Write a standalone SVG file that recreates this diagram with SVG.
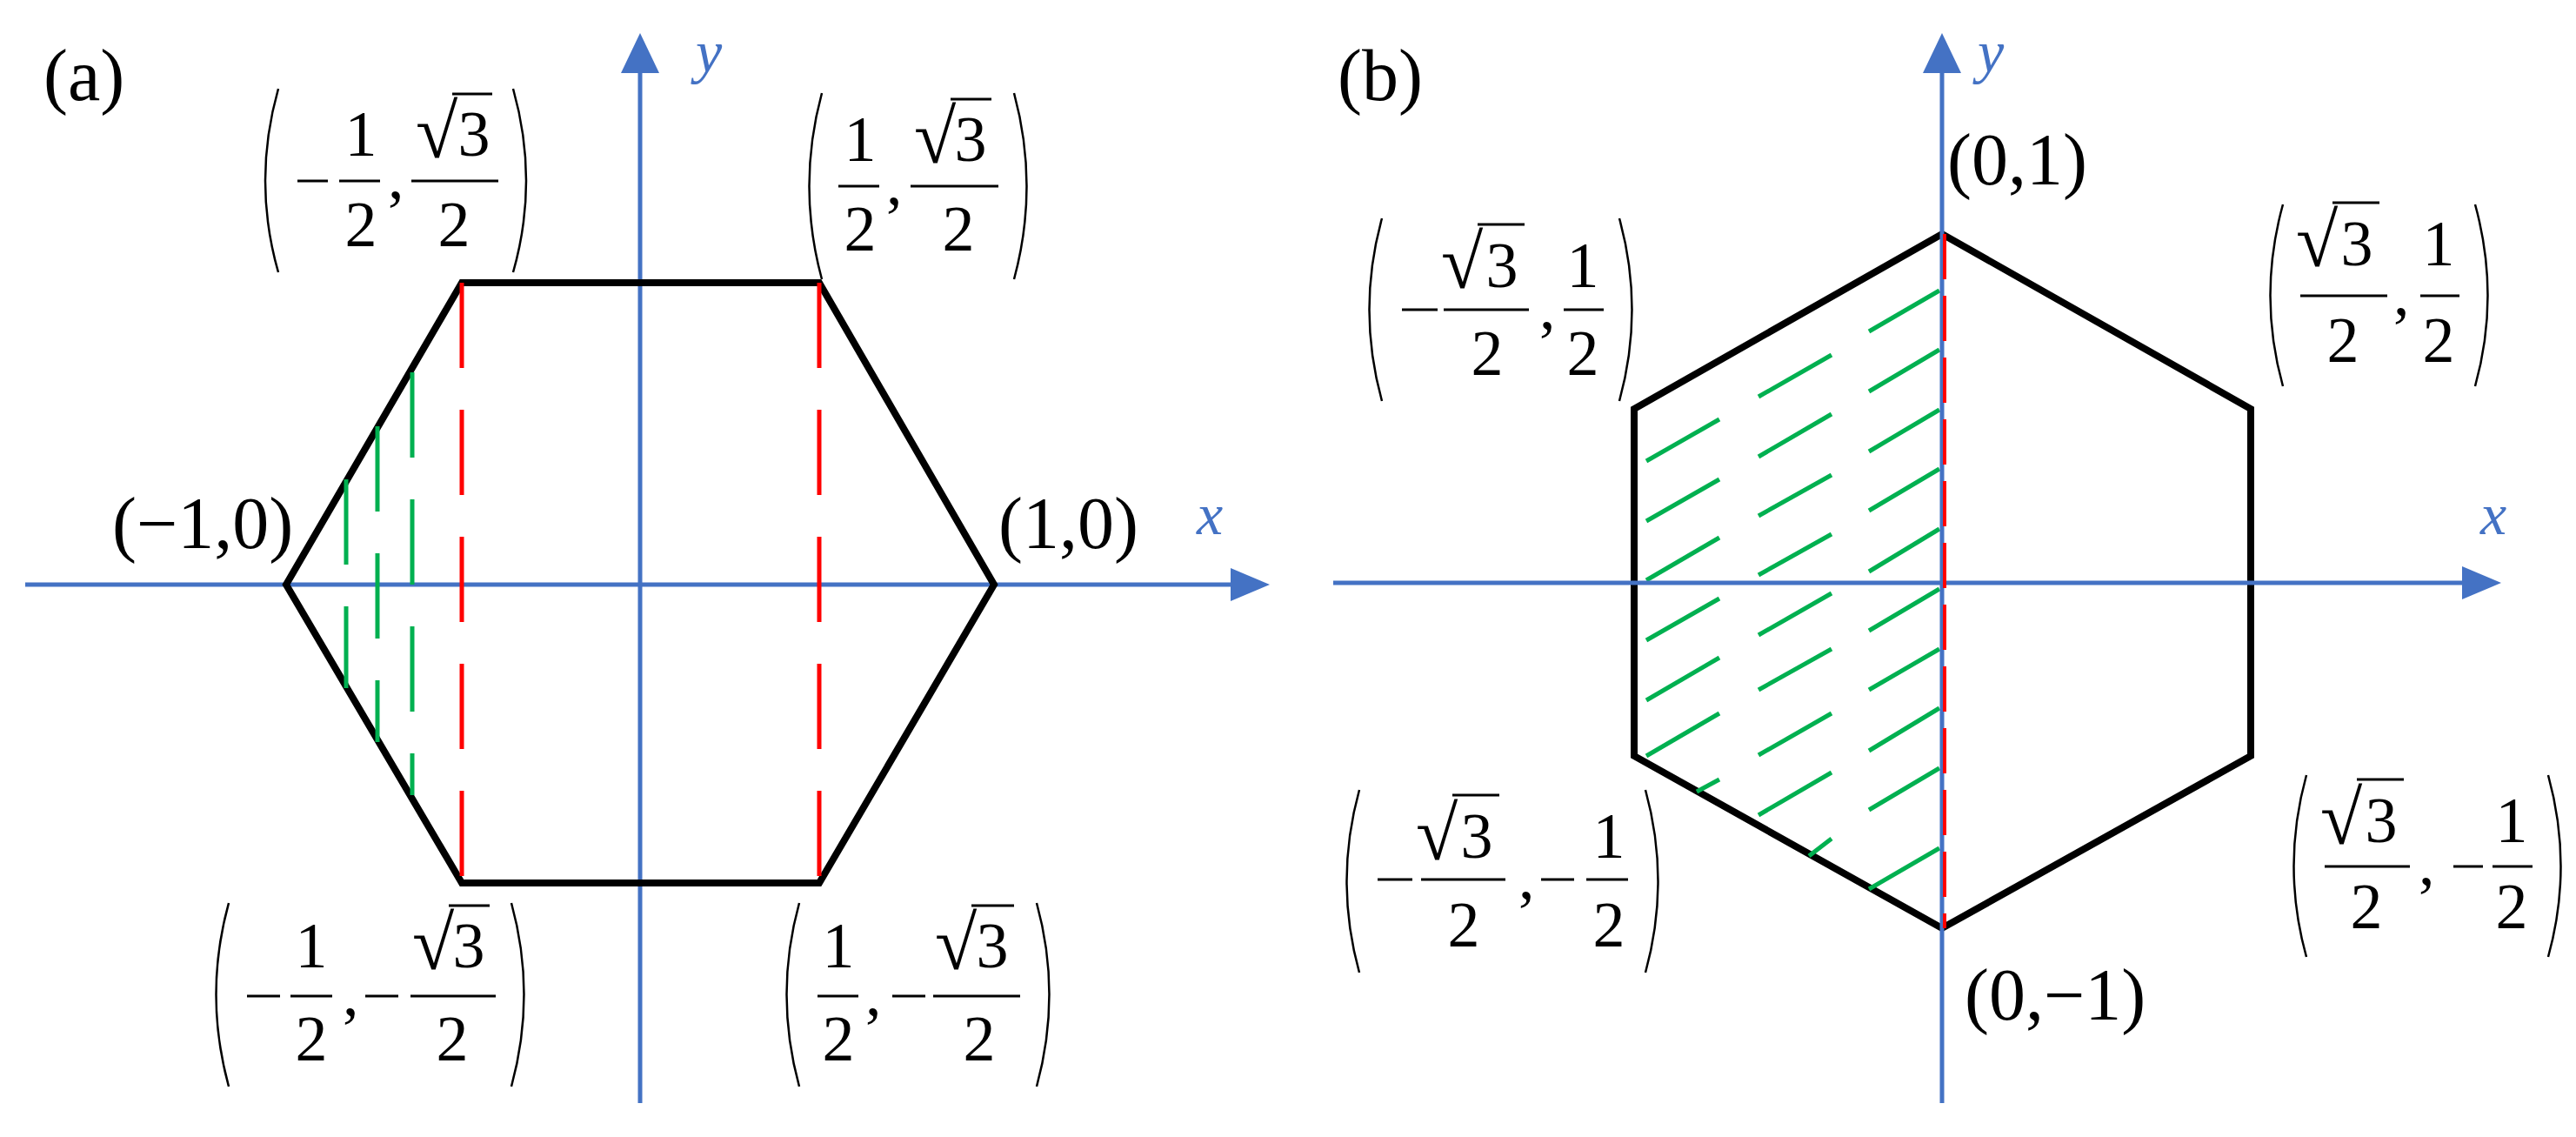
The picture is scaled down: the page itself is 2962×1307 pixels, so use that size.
<svg xmlns="http://www.w3.org/2000/svg" width="2962" height="1307" viewBox="0 0 2962 1307">
<style>
.ax{stroke:#4472C4;stroke-width:5;fill:none}
.ah{fill:#4472C4}
.hex{stroke:#000;stroke-width:8;fill:none;stroke-linejoin:miter}
.red{stroke:#FF0000;stroke-width:5;fill:none;stroke-dasharray:98 48}
.grn{stroke:#00B050;stroke-width:5;fill:none;stroke-dasharray:98 48}
.g{stroke:#00B050;stroke-width:5;fill:none}
.t{font-family:'Liberation Serif','Times New Roman',serif;font-size:74px;fill:#000}
.tb{font-family:'Liberation Serif','Times New Roman',serif;font-size:84px;fill:#000}
.c{text-anchor:middle}
.ax-l{font-family:'Liberation Serif','Times New Roman',serif;font-size:68px;font-style:italic;fill:#4472C4}
.p{stroke:#000;stroke-width:2.5;fill:none}
.b{stroke:#000;stroke-width:3}
.rad{font-family:'Liberation Serif','Times New Roman',serif;font-size:88px;fill:#000}
</style>
<rect width="2962" height="1307" fill="#fff"/>

<!-- Panel a -->
<g id="axes-a">
<line class="ax" x1="29" y1="672" x2="1420" y2="672"/>
<polygon class="ah" points="1460,672 1415,653 1415,691"/>
<line class="ax" x1="736" y1="1268" x2="736" y2="80"/>
<polygon class="ah" points="736,38 714,84 758,84"/>
<text class="ax-l" x="800" y="83">y</text>
<text class="ax-l" x="1376" y="614">x</text>
</g>
<g id="hex-a">
<polygon class="hex" points="329,672 531,325 942,325 1143,672 942,1015 531,1015"/>
</g>
<g id="dashes-a">
<line class="red" x1="531" y1="325" x2="531" y2="1015"/>
<line class="red" x1="942" y1="325" x2="942" y2="1015"/>
<line class="grn" x1="398" y1="551" x2="398" y2="791"/>
<line class="grn" x1="434" y1="490" x2="434" y2="853"/>
<line class="grn" x1="474" y1="428" x2="474" y2="914"/>
</g>
<text class="tb" x="50" y="115" font-size="80">(a)</text>
<g id="lbl-m10"><text class="tb" x="129" y="630">(−1,0)</text></g>
<g id="lbl-10"><text class="tb" x="1148" y="630">(1,0)</text></g>

<g id="lbl-a-tl">
<path class="p" d="M320 102 Q290 208 320 313"/><path class="p" d="M590 102 Q620 208 590 313"/>
<line class="b" x1="342" y1="208" x2="377" y2="208"/>
<text class="t c" x="415" y="179">1</text><line class="b" x1="390" y1="208" x2="437" y2="208"/><text class="t c" x="415" y="283">2</text>
<text class="t" x="446" y="228">,</text>
<text class="rad" x="478" y="181">√</text><line class="b" x1="520" y1="108" x2="566" y2="108"/>
<text class="t c" x="545" y="179">3</text><line class="b" x1="473" y1="208" x2="573" y2="208"/><text class="t c" x="522" y="283">2</text>
</g>
<g id="lbl-a-tr">
<path class="p" d="M945 107 Q916 214 945 321"/><path class="p" d="M1166 107 Q1195 214 1166 321"/>
<text class="t c" x="989" y="185">1</text><line class="b" x1="964" y1="214" x2="1011" y2="214"/><text class="t c" x="989" y="288">2</text>
<text class="t" x="1019" y="235">,</text>
<text class="rad" x="1051" y="187">√</text><line class="b" x1="1093" y1="114" x2="1140" y2="114"/>
<text class="t c" x="1116" y="185">3</text><line class="b" x1="1047" y1="214" x2="1148" y2="214"/><text class="t c" x="1102" y="288">2</text>
</g>
<g id="lbl-a-bl">
<path class="p" d="M263 1038 Q234 1143 263 1249"/><path class="p" d="M588 1038 Q617 1143 588 1249"/>
<line class="b" x1="284" y1="1145" x2="322" y2="1145"/>
<text class="t c" x="358" y="1112">1</text><line class="b" x1="334" y1="1145" x2="382" y2="1145"/><text class="t c" x="358" y="1219">2</text>
<text class="t" x="394" y="1167">,</text>
<line class="b" x1="420" y1="1145" x2="458" y2="1145"/>
<text class="rad" x="474" y="1114">√</text><line class="b" x1="516" y1="1041" x2="563" y2="1041"/>
<text class="t c" x="539" y="1112">3</text><line class="b" x1="472" y1="1145" x2="570" y2="1145"/><text class="t c" x="520" y="1219">2</text>
</g>
<g id="lbl-a-br">
<path class="p" d="M919 1038 Q890 1143 919 1249"/><path class="p" d="M1192 1038 Q1221 1143 1192 1249"/>
<text class="t c" x="964" y="1112">1</text><line class="b" x1="940" y1="1145" x2="987" y2="1145"/><text class="t c" x="964" y="1219">2</text>
<text class="t" x="995" y="1167">,</text>
<line class="b" x1="1026" y1="1145" x2="1064" y2="1145"/>
<text class="rad" x="1075" y="1114">√</text><line class="b" x1="1117" y1="1041" x2="1166" y2="1041"/>
<text class="t c" x="1141" y="1112">3</text><line class="b" x1="1073" y1="1145" x2="1173" y2="1145"/><text class="t c" x="1126" y="1219">2</text>
</g>

<!-- Panel b -->
<g id="hex-b">
<polygon class="hex" points="2233,269 2588,470 2588,869 2233,1067 1879,869 1879,470"/>
</g>
<g id="hatch-b">
<line class="g" x1="1893" y1="530" x2="1977" y2="482"/>
<line class="g" x1="1893" y1="599" x2="1977" y2="551"/>
<line class="g" x1="1893" y1="667" x2="1977" y2="618"/>
<line class="g" x1="1893" y1="736" x2="1977" y2="688"/>
<line class="g" x1="1893" y1="805" x2="1977" y2="756"/>
<line class="g" x1="1893" y1="869" x2="1977" y2="820"/>
<line class="g" x1="1951" y1="910" x2="1977" y2="896"/>
<line class="g" x1="2022" y1="456" x2="2106" y2="408"/>
<line class="g" x1="2022" y1="525" x2="2106" y2="476"/>
<line class="g" x1="2022" y1="593" x2="2106" y2="546"/>
<line class="g" x1="2022" y1="661" x2="2106" y2="614"/>
<line class="g" x1="2022" y1="730" x2="2106" y2="682"/>
<line class="g" x1="2022" y1="793" x2="2106" y2="746"/>
<line class="g" x1="2022" y1="868" x2="2106" y2="820"/>
<line class="g" x1="2022" y1="937" x2="2106" y2="888"/>
<line class="g" x1="2080" y1="984" x2="2106" y2="964"/>
<line class="g" x1="2149" y1="381" x2="2230" y2="334"/>
<line class="g" x1="2149" y1="450" x2="2230" y2="402"/>
<line class="g" x1="2149" y1="519" x2="2230" y2="471"/>
<line class="g" x1="2149" y1="587" x2="2230" y2="539"/>
<line class="g" x1="2149" y1="657" x2="2230" y2="608"/>
<line class="g" x1="2149" y1="725" x2="2230" y2="677"/>
<line class="g" x1="2149" y1="793" x2="2230" y2="746"/>
<line class="g" x1="2149" y1="863" x2="2230" y2="814"/>
<line class="g" x1="2149" y1="931" x2="2230" y2="883"/>
<line class="g" x1="2149" y1="1022" x2="2230" y2="975"/>
</g>
<g id="axes-b">
<line class="ax" x1="1533" y1="670" x2="2836" y2="670"/>
<polygon class="ah" points="2876,670 2831,651 2831,689"/>
<line class="ax" x1="2233" y1="1268" x2="2233" y2="80"/>
<polygon class="ah" points="2233,38 2211,84 2255,84"/>
<text class="ax-l" x="2274" y="83">y</text>
<text class="ax-l" x="2852" y="614">x</text>
</g>
<line stroke="#FF0000" stroke-width="4" stroke-dasharray="52 19" x1="2236" y1="269" x2="2236" y2="1067"/>
<text class="tb" x="1538" y="115" font-size="80">(b)</text>
<g id="lbl-01"><text class="tb" x="2239" y="212" font-size="76">(0,1)</text></g>
<g id="lbl-0m1"><text class="tb" x="2259" y="1172" font-size="76">(0,−1)</text></g>

<g id="lbl-b-tl">
<path class="p" d="M1589 251 Q1560 356 1589 461"/><path class="p" d="M1862 251 Q1891 356 1862 461"/>
<line class="b" x1="1612" y1="356" x2="1653" y2="356"/>
<text class="rad" x="1657" y="331">√</text><line class="b" x1="1699" y1="258" x2="1753" y2="258"/>
<text class="t c" x="1727" y="330">3</text><line class="b" x1="1660" y1="356" x2="1758" y2="356"/><text class="t c" x="1710" y="431">2</text>
<text class="t" x="1770" y="378">,</text>
<text class="t c" x="1820" y="330">1</text><line class="b" x1="1798" y1="356" x2="1844" y2="356"/><text class="t c" x="1820" y="431">2</text>
</g>
<g id="lbl-b-tr">
<path class="p" d="M2625 235 Q2596 340 2625 444"/><path class="p" d="M2846 235 Q2875 340 2846 444"/>
<text class="rad" x="2640" y="306">√</text><line class="b" x1="2682" y1="233" x2="2736" y2="233"/>
<text class="t c" x="2710" y="305">3</text><line class="b" x1="2645" y1="340" x2="2745" y2="340"/><text class="t c" x="2694" y="416">2</text>
<text class="t" x="2752" y="362">,</text>
<text class="t c" x="2804" y="305">1</text><line class="b" x1="2783" y1="340" x2="2828" y2="340"/><text class="t c" x="2804" y="416">2</text>
</g>
<g id="lbl-b-bl">
<path class="p" d="M1563 908 Q1534 1013 1563 1118"/><path class="p" d="M1892 908 Q1921 1013 1892 1118"/>
<line class="b" x1="1584" y1="1011" x2="1624" y2="1011"/>
<text class="rad" x="1628" y="988">√</text><line class="b" x1="1670" y1="914" x2="1724" y2="914"/>
<text class="t c" x="1698" y="986">3</text><line class="b" x1="1634" y1="1011" x2="1731" y2="1011"/><text class="t c" x="1683" y="1088">2</text>
<text class="t" x="1746" y="1033">,</text>
<line class="b" x1="1772" y1="1011" x2="1810" y2="1011"/>
<text class="t c" x="1850" y="986">1</text><line class="b" x1="1824" y1="1011" x2="1872" y2="1011"/><text class="t c" x="1850" y="1088">2</text>
</g>
<g id="lbl-b-br">
<path class="p" d="M2652 891 Q2623 996 2652 1100"/><path class="p" d="M2930 891 Q2959 996 2930 1100"/>
<text class="rad" x="2668" y="970">√</text><line class="b" x1="2710" y1="896" x2="2764" y2="896"/>
<text class="t c" x="2738" y="968">3</text><line class="b" x1="2673" y1="996" x2="2771" y2="996"/><text class="t c" x="2721" y="1067">2</text>
<text class="t" x="2781" y="1017">,</text>
<line class="b" x1="2821" y1="996" x2="2855" y2="996"/>
<text class="t c" x="2888" y="968">1</text><line class="b" x1="2866" y1="996" x2="2912" y2="996"/><text class="t c" x="2888" y="1067">2</text>
</g>
</svg>
